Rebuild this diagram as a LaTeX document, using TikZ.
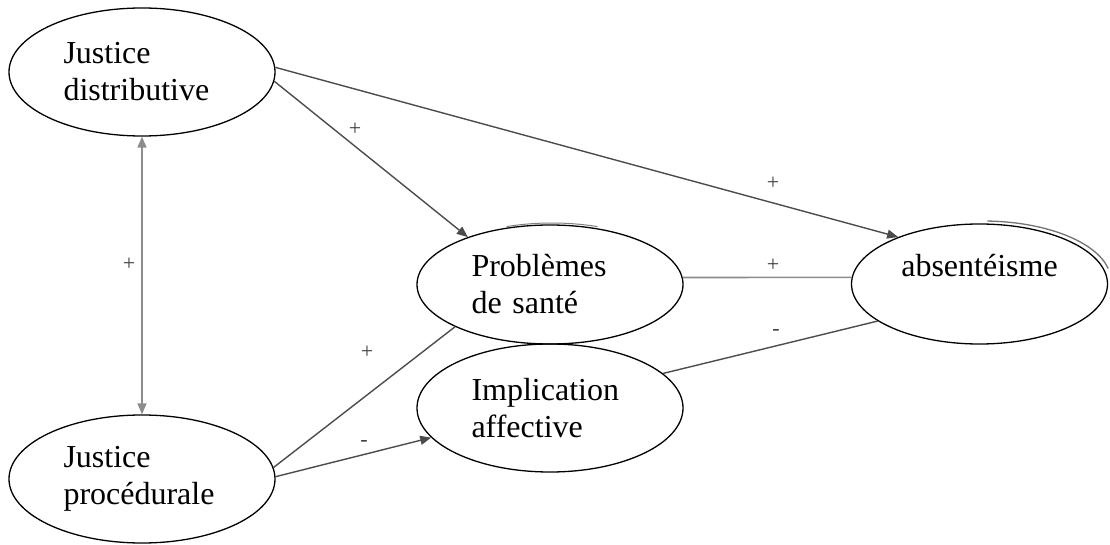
\documentclass[tikz,border=0pt]{standalone}
\usepackage{fontspec}
\setmainfont{Liberation Serif}
\usetikzlibrary{shapes.geometric,arrows.meta}
\begin{document}
\begin{tikzpicture}[x=1pt,y=-1pt,
  var/.style={ellipse,draw=black,line width=1.3pt,inner sep=0pt,align=left,
    text width=157pt,font=\fontsize{32}{37}\selectfont},
  link/.style={draw=black!70,line width=1.4pt},
  lightlink/.style={draw=black!45,line width=1.6pt},
  tip/.style={-{Triangle[length=11pt,width=9pt]}},
  sign/.style={inner sep=0pt,text=black!75,font=\fontsize{22}{22}\selectfont}]
\useasboundingbox (0,0) rectangle (1110,545);
\node[var,minimum width=266pt,minimum height=128pt] (JD) at (142,72) {Justice\\distributive};
\node[var,minimum width=266pt,minimum height=128pt] (JP) at (142,479) {Justice\\procédurale};
\node[var,minimum width=266pt,minimum height=119pt] (PS) at (550,284.5) {Problèmes\\de santé};
\node[var,minimum width=266pt,minimum height=128pt] (IA) at (550,408) {Implication\\affective};
\node[var,minimum width=256pt,minimum height=120pt,align=center,text width=165pt] (AB) at (979.5,284) {absentéisme\\~};
% faint doubled outline arcs
\draw[black!55,line width=1.3pt] (983,281) ++(88:128pt and 60pt) arc[start angle=88,end angle=12,x radius=128pt,y radius=60pt];
\draw[black!50,line width=1pt] (552,282.5) ++(110:133pt and 59.5pt) arc[start angle=110,end angle=70,x radius=133pt,y radius=59.5pt];
% connectors
\draw[link,tip] (JD.2) -- (AB.150);
\draw[link,tip] (JD.-4) -- (PS.150);
\draw[lightlink,{Triangle[length=11pt,width=9pt]}-{Triangle[length=11pt,width=9pt]}] (JD.south) -- (JP.north);
\draw[link] (JP.5) -- (PS.204);
\draw[link,tip] (JP.1) -- (IA.194);
\draw[lightlink] (PS.3) -- (AB.177);
\draw[link] (IA.17) -- (AB.200);
% signs
\node[sign] (s1) at (355,129) {+};
\node[sign] (s2) at (773,183) {+};
\node[sign] (s3) at (773,265) {+};
\node[sign] (s4) at (776,332) {-};
\node[sign] (s5) at (367,352) {+};
\node[sign] (s6) at (364,443) {-};
\node[sign] (s7) at (129,264) {+};
\end{tikzpicture}
\end{document}
